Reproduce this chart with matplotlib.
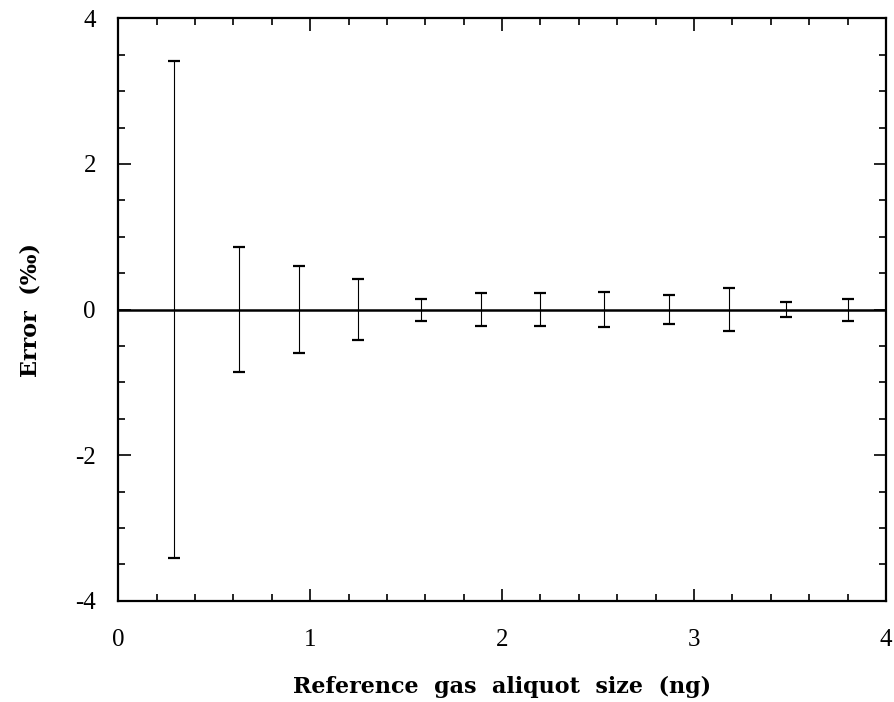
import numpy as np
import matplotlib
matplotlib.use('Agg')
import matplotlib.pyplot as plt
from matplotlib.ticker import MultipleLocator

plt.rcParams['font.family'] = ['Liberation Serif', 'DejaVu Serif']
plt.rcParams['axes.unicode_minus'] = False

# aliquot size (ng) and the error half-widths (per mil)
size_ng = [0.29, 0.63, 0.94, 1.25, 1.58, 1.89, 2.20, 2.53, 2.87, 3.18, 3.48, 3.80]
mean_err = [0, 0, 0, 0, 0, 0, 0, 0, 0, 0, 0, 0]
err_bar = [3.41, 0.86, 0.60, 0.42, 0.15, 0.23, 0.23, 0.24, 0.20, 0.30, 0.10, 0.15]

x_ticks = [0, 1, 2, 3, 4]
y_ticks = [-4, -2, 0, 2, 4]

fig = plt.figure(figsize=(8.95, 7.02), dpi=100)
ax = fig.add_axes([0.132, 0.144, 0.858, 0.830])

# zero line
ax.axhline(0, color='black', lw=1.8, zorder=1)

# error bars
ax.errorbar(size_ng, mean_err, yerr=err_bar, fmt='none', ecolor='black',
            elinewidth=0.8, capsize=4, capthick=1.6, zorder=2)

ax.set_xlim(0, 4)
ax.set_ylim(-4, 4)
ax.set_xticks(x_ticks)
ax.set_yticks(y_ticks)
ax.xaxis.set_minor_locator(MultipleLocator(0.2))
ax.yaxis.set_minor_locator(MultipleLocator(0.5))
ax.tick_params(which='both', direction='in', top=True, right=True, width=1.2)
ax.tick_params(which='major', length=9, labelsize=18)
ax.tick_params(axis='x', which='major', pad=20)
ax.tick_params(axis='y', which='major', pad=16)
ax.tick_params(which='minor', length=5)
for s in ax.spines.values():
    s.set_linewidth(1.6)

# wider serif for the axis titles, like the original print
lab_font = dict(family=['DejaVu Serif'], fontsize=16, fontweight='bold')
ax.set_xlabel('Reference  gas  aliquot  size  (ng)', labelpad=18, **lab_font)
ax.set_ylabel('Error  (\u2030)', labelpad=24, **lab_font)

fig.savefig('out.png', dpi=100)
